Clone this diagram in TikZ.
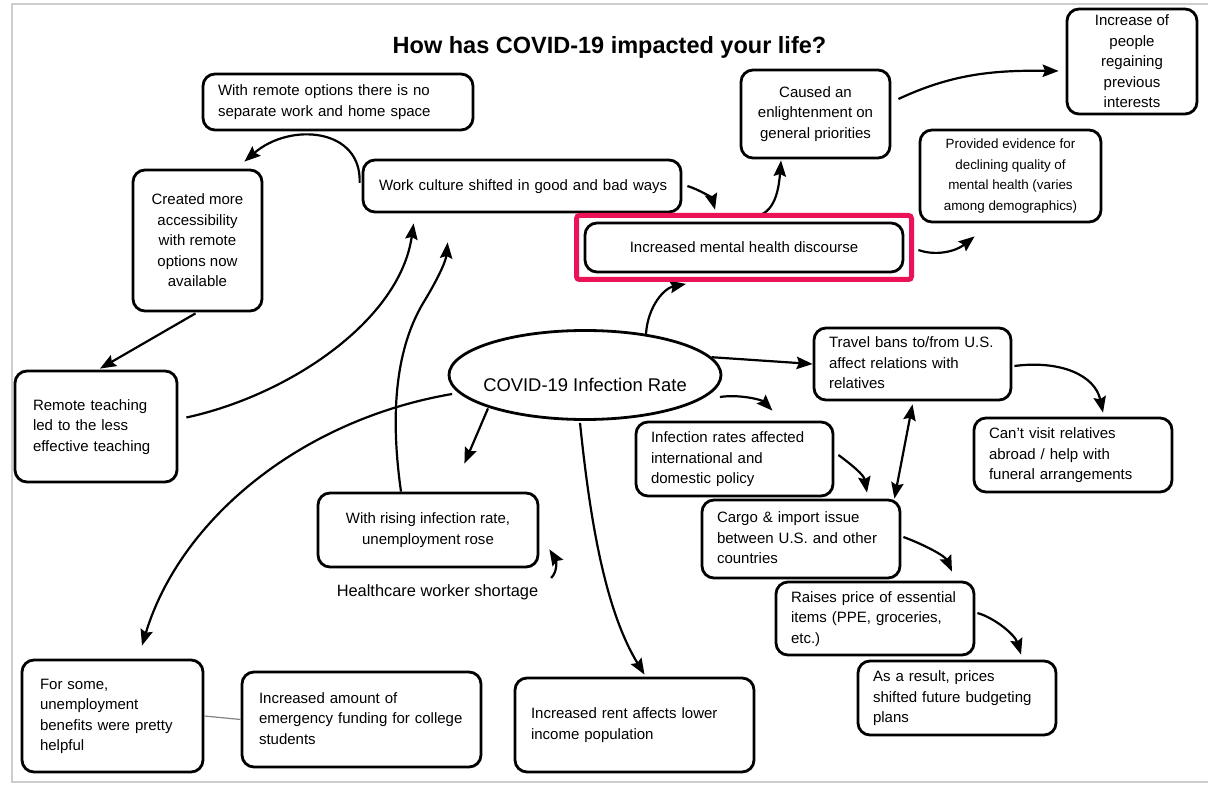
\documentclass[tikz,border=0pt]{standalone}
\usepackage{fontspec}
\setmainfont{Liberation Sans}
\usetikzlibrary{arrows.meta,calc,shapes.geometric}

\definecolor{accent}{RGB}{236,18,88}
\definecolor{framegray}{RGB}{205,205,205}
\definecolor{joingray}{RGB}{130,130,130}

\newcommand\bodyfont{\fontsize{7.5pt}{10.25pt}\selectfont}
\newcommand\smallbodyfont{\fontsize{6.7pt}{10.2pt}\selectfont}
\newcommand\leftlines[1]{\begin{tabular}{@{}l@{}}#1\end{tabular}}

\tikzset{
  box/.style={draw, line width=1.4pt, rounded corners=6pt, fill=white,
              inner sep=0pt, font=\bodyfont},
  lbox/.style={box, align=left},
  cbox/.style={box, align=center},
  tip/.style={Stealth[length=8pt,width=6.2pt,inset=1.2pt]},
  link/.style={line width=1.1pt, -{Stealth[length=8pt,width=6.2pt,inset=1.2pt]}},
  twoway/.style={line width=1.1pt, {Stealth[length=8pt,width=6.2pt,inset=1.2pt]}-{Stealth[length=8pt,width=6.2pt,inset=1.2pt]}},
}

\begin{document}
\begin{tikzpicture}[x=0.5pt,y=-0.5pt]
\useasboundingbox (0,0) rectangle (1208,785);
\fill[white] (0,0) rectangle (1208,785);

% page frame
\draw[framegray, line width=1pt] (1210,4) -- (12,4) -- (12,782) -- (1210,782);

% title
\node[font=\fontsize{11.75pt}{14pt}\selectfont\bfseries] (title) at (609.5,47.5)
  {How has COVID-19 impacted your life?};

% central topic
\node[draw, ellipse, line width=1.4pt, minimum width=136pt, minimum height=44.5pt,
      inner sep=0pt, fill=white, font=\fontsize{9.2pt}{11pt}\selectfont] (covid) at (585,375)
  {\raisebox{-8.5pt}[0pt][0pt]{\makebox[0pt]{COVID-19 Infection Rate}}};

% boxes
\node[lbox, minimum width=135pt, minimum height=28pt, text width=120pt] (remote) at (338,102)
  {\leftlines{With remote options there is no\\separate work and home space}};
\node[lbox, minimum width=159pt, minimum height=26pt, text width=143pt] (work) at (522,186)
  {\leftlines{Work culture shifted in good and bad ways}};
\node[cbox, minimum width=64.5pt, minimum height=70.5pt] (access) at (197.5,240.5)
  {Created more\\accessibility\\with remote\\options now\\available};
\node[cbox, minimum width=74.5pt, minimum height=44pt] (enlight) at (815.5,114)
  {Caused an\\enlightenment on\\general priorities};
\node[cbox, minimum width=65pt, minimum height=52.5pt] (interest) at (1132,61.5)
  {Increase of\\people\\regaining\\previous\\interests};
\node[cbox, font=\smallbodyfont, minimum width=90.5pt, minimum height=46pt] (evidence) at (1010.5,176)
  {Provided evidence for\\declining quality of\\mental health (varies\\among demographics)};
\node[cbox, minimum width=159pt, minimum height=24.5pt] (discourse) at (744,247.5)
  {Increased mental health discourse};
\node[lbox, minimum width=98.5pt, minimum height=36pt, text width=83.5pt] (travel) at (912.5,364)
  {\leftlines{Travel bans to/from U.S.\\affect relations with\\relatives}};
\node[lbox, minimum width=99pt, minimum height=37pt, text width=84pt] (visit) at (1073,455)
  {\leftlines{Can’t visit relatives\\abroad / help with\\funeral arrangements}};
\node[lbox, minimum width=98.5pt, minimum height=37pt, text width=83.5pt] (policy) at (734.5,459)
  {\leftlines{Infection rates affected\\international and\\domestic policy}};
\node[lbox, minimum width=99pt, minimum height=39pt, text width=84pt] (cargo) at (801,539)
  {\leftlines{Cargo \& import issue\\between U.S. and other\\countries}};
\node[lbox, minimum width=99pt, minimum height=36.5pt, text width=84pt] (price) at (875,618.5)
  {\leftlines{Raises price of essential\\items (PPE, groceries,\\etc.)}};
\node[lbox, minimum width=99pt, minimum height=37pt, text width=84pt] (budget) at (957,698)
  {\leftlines{As a result, prices\\shifted future budgeting\\plans}};
\node[lbox, minimum width=119.5pt, minimum height=47pt, text width=103.5pt] (rent) at (634.5,725)
  {\leftlines{Increased rent affects lower\\income population}};
\node[cbox, minimum width=110pt, minimum height=37pt] (unemp) at (428,530)
  {With rising infection rate,\\unemployment rose};
\node[lbox, minimum width=81pt, minimum height=55.5pt, text width=63pt] (teach) at (96,426.5)
  {\leftlines{Remote teaching\\led to the less\\effective teaching}};
\node[lbox, minimum width=90.5pt, minimum height=56pt, text width=72.5pt] (benefit) at (112.5,716)
  {\leftlines{For some,\\unemployment\\benefits were pretty\\helpful}};
\node[lbox, minimum width=119.5pt, minimum height=47.5pt, text width=102.5pt] (funding) at (361.5,719.5)
  {\leftlines{Increased amount of\\emergency funding for college\\students}};

% free label
\node[font=\fontsize{8.2pt}{10pt}\selectfont, inner sep=0pt] (shortage) at (437.5,592)
  {Healthcare worker shortage};

% connectors
\draw[link] ($(work.west)+(-2,-3)$) .. controls (362,128) and (290,122) .. ($(access.north east)+(-19,-7)$);
\draw[link] ($(access.south)+(-2,1)$) -- ($(teach.north)+(4,-1)$);
\draw[link] ($(teach.east)+(8,-9)$) .. controls (290,395) and (400,320) .. ($(work.south west)+(52,10)$);
\draw[link] ($(unemp.north)+(-27,0)$) .. controls (388,400) and (400,340) .. (425,300)
  .. controls (440,275) and (446,260) .. ($(work.south west)+(86,29)$);
\draw[link] (covid.34) .. controls (648,305) and (665,288) .. ($(discourse.south)+(-58,10.5)$);
\draw[link] ($(work.east)+(5,0)$) .. controls (700,190) and (712,198) .. ($(discourse.north)+(-29,-12)$);
\draw[link] ($(discourse.north)+(2,-5)$) .. controls (770,219) and (778,200) .. ($(enlight.south)+(-34.5,1)$);
\draw[link] ($(enlight.east)+(7,-15)$) .. controls (950,75) and (990,70) .. ($(interest.west)+(-7,9.5)$);
\draw[link] ($(discourse.east)+(14,2.5)$) .. controls (935,256) and (955,252) .. ($(evidence.south west)+(56,13)$);
\draw[link] (covid.8) -- (travel.west);
\draw[link] ($(covid.east)+(-2.5,22)$) .. controls (740,394) and (762,400) .. ($(policy.north east)+(-62,-10)$);
\draw[link] ($(travel.east)+(2,2)$) .. controls (1060,360) and (1095,375) .. ($(visit.north)+(30,-4)$);
\draw[link] ($(policy.east)+(4,-4)$) .. controls (852,465) and (864,475) .. ($(cargo.north)+(66,-6)$);
\draw[twoway] ($(cargo.north east)+(-7,0)$) -- ($(travel.south)+(0,3)$);
\draw[link] ($(cargo.east)+(2,-2)$) .. controls (925,545) and (945,556) .. ($(price.north)+(77,-9)$);
\draw[link] ($(price.east)+(2,-5.5)$) .. controls (995,618) and (1015,635) .. ($(budget.north)+(64,-5)$);
\draw[link] ($(covid.south)+(-5,2)$) .. controls (590,520) and (605,610) .. ($(rent.north)+(10,-2)$);
\draw[link] ($(covid.west)+(4.5,19)$) .. controls (300,420) and (180,520) .. ($(benefit.north)+(29.5,-13)$);
\draw[link] ($(covid.south)+(-97,-12.5)$) -- ($(unemp.north east)+(-75,-28)$);
\draw[link] ($(shortage.east)+(12.5,-14)$) .. controls (558,571) and (556,560) .. ($(unemp.south east)+(10,-19)$);
\draw[joingray, line width=0.6pt] (benefit.east) -- (funding.west);

% highlight round the discourse box
\node[draw=accent, line width=2.5pt, rounded corners=1.5pt, minimum width=167.5pt,
      minimum height=32pt, inner sep=0pt] (highlight) at (744,247.5) {};
\end{tikzpicture}
\end{document}
